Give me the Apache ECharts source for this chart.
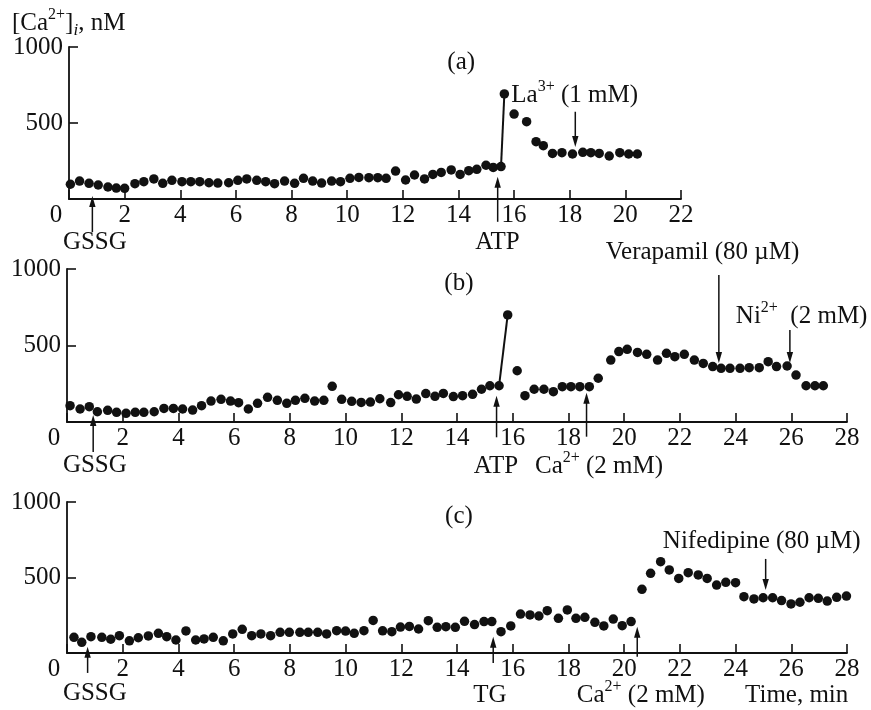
<!DOCTYPE html>
<html><head><meta charset="utf-8">
<script src="https://cdn.jsdelivr.net/npm/echarts@6/dist/echarts.min.js"></script>
<style>html,body{margin:0;padding:0;background:#fff}#c{width:871px;height:710px}</style>
</head><body><div id="c"></div>
<script>
// ---- data (time in min, [Ca2+]i in nM) ----
const aTime = [0.05,0.38,0.72,1.05,1.4,1.7,2.0,2.37,2.69,3.05,3.37,3.7,4.06,4.38,4.7,5.03,5.35,5.74,6.07,6.39,6.75,7.07,7.39,7.75,8.11,8.43,8.76,9.08,9.44,9.76,10.1,10.42,10.78,11.1,11.4,11.74,12.1,12.42,12.78,13.08,13.38,13.74,14.06,14.37,14.66,14.99,15.25,15.53,15.65,16.0,16.45,16.79,17.05,17.38,17.72,18.1,18.47,18.76,19.06,19.42,19.8,20.12,20.43];
const aVal  = [97,118,103,92,79,72,70,101,114,132,103,123,114,114,114,107,105,107,123,132,123,114,101,118,103,136,118,105,118,114,136,142,140,140,136,184,125,158,132,162,175,191,162,186,195,222,208,213,691,559,509,377,351,300,305,296,307,305,300,283,305,296,296];

const bTime = [0.11,0.47,0.8,1.09,1.46,1.78,2.12,2.45,2.76,3.13,3.48,3.82,4.15,4.51,4.83,5.17,5.53,5.87,6.16,6.51,6.84,7.2,7.55,7.89,8.2,8.54,8.89,9.22,9.52,9.86,10.22,10.56,10.89,11.23,11.62,11.9,12.21,12.54,12.88,13.21,13.51,13.87,14.2,14.56,14.88,15.18,15.51,15.82,16.16,16.44,16.77,17.12,17.46,17.78,18.09,18.41,18.75,19.07,19.52,19.81,20.11,20.48,20.81,21.2,21.52,21.82,22.16,22.52,22.84,23.18,23.48,23.8,24.16,24.49,24.85,25.17,25.47,25.85,26.17,26.53,26.85,27.15];
const bVal  = [107,85,100,67,76,63,57,63,63,67,89,89,85,78,107,137,148,137,126,85,122,161,142,122,142,155,137,142,233,148,135,128,130,152,127,178,168,150,186,168,187,166,172,181,214,237,237,700,335,172,214,214,198,231,231,231,231,286,405,460,475,455,442,405,449,427,442,405,383,362,351,351,351,355,355,394,362,366,307,237,237,237];

const cTime = [0.25,0.53,0.86,1.25,1.57,1.88,2.24,2.56,2.92,3.28,3.58,3.91,4.27,4.62,4.92,5.25,5.61,5.95,6.29,6.63,6.96,7.31,7.65,7.98,8.36,8.66,9.0,9.32,9.68,10.0,10.31,10.66,10.99,11.33,11.66,11.97,12.29,12.62,12.97,13.29,13.6,13.94,14.27,14.63,14.97,15.25,15.58,15.93,16.28,16.62,16.94,17.24,17.64,17.96,18.27,18.59,18.95,19.27,19.61,19.93,20.25,20.64,20.95,21.31,21.62,21.96,22.3,22.66,22.98,23.32,23.65,24.0,24.3,24.66,24.99,25.33,25.65,25.99,26.31,26.64,26.97,27.29,27.63,27.98];
const cVal  = [104,71,108,104,91,115,81,101,113,130,108,86,146,86,93,104,81,126,157,115,126,115,137,137,137,137,137,126,148,145,130,148,216,147,141,172,176,159,214,170,174,170,210,188,208,208,141,179,258,252,245,280,230,285,230,236,203,179,225,181,208,422,528,605,550,494,532,517,494,450,468,466,373,358,366,366,347,325,336,366,362,344,369,377];

const xMax = [22, 28, 28];
const yTicks = [0, 500, 1000];

// ---- annotations (time position, value-space extents) ----
const arrows = [
  {g:0, t:0.84,  from:-217, to:20},
  {g:0, t:15.41, from:-150, to:147},
  {g:0, t:18.2,  from:574,  to:342},
  {g:1, t:0.94,  from:-196, to:46},
  {g:1, t:15.42, from:-100, to:172},
  {g:1, t:18.65, from:-96,  to:191},
  {g:1, t:23.4,  from:961,  to:386},
  {g:1, t:25.95, from:601,  to:386},
  {g:2, t:0.74,  from:-132, to:42},
  {g:2, t:15.3,  from:-66,  to:108},
  {g:2, t:20.47, from:-25,  to:174},
  {g:2, t:25.08, from:623,  to:417}
];
const texts = [
  {g:0, t:14.1,  v:897,  text:'(a)', align:'center'},
  {g:0, t:15.9,  v:684,  text:'La{sup|3+} (1 mM)', align:'left'},
  {g:0, t:0.93,  v:-289, text:'GSSG', align:'center'},
  {g:0, t:15.4,  v:-289, text:'ATP', align:'center'},
  {g:1, t:14.07, v:908,  text:'(b)', align:'center'},
  {g:1, t:19.34, v:1105, text:'Verapamil (80 µM)', align:'left'},
  {g:1, t:24.01, v:693,  text:'Ni{sup|2+}  (2 mM)', align:'left'},
  {g:1, t:1.0,   v:-281, text:'GSSG', align:'center'},
  {g:1, t:15.4,  v:-288, text:'ATP', align:'center'},
  {g:1, t:16.8,  v:-288, text:'Ca{sup|2+} (2 mM)', align:'left'},
  {g:2, t:14.07, v:903,  text:'(c)', align:'center'},
  {g:2, t:21.39, v:737,  text:'Nifedipine (80 µM)', align:'left'},
  {g:2, t:1.0,   v:-265, text:'GSSG', align:'center'},
  {g:2, t:15.18, v:-278, text:'TG', align:'center'},
  {g:2, t:18.3,  v:-278, text:'Ca{sup|2+} (2 mM)', align:'left'},
  {g:2, t:24.34, v:-278, text:'Time, min', align:'left'}
];

const INK = '#111';
const FONT = '"Liberation Serif","DejaVu Serif",serif';
const FS = 25;

const panels = [[aTime,aVal],[bTime,bVal],[cTime,cVal]];
const grids = [
  {left:69, top:47,  width:612, height:152},
  {left:67, top:269, width:780, height:153},
  {left:67, top:502, width:780, height:151}
].map(g => Object.assign({outerBoundsMode:'none', containLabel:false}, g));

const xAxes = xMax.map((m,i) => ({
  type:'value', gridIndex:i, min:0, max:m, interval:2,
  axisLine:{show:true, onZero:false, lineStyle:{color:INK, width:1.8}},
  axisTick:{show:true, inside:true, length:9, lineStyle:{color:INK, width:1.6}},
  splitLine:{show:false},
  axisLabel:{show:true, color:INK, fontFamily:FONT, fontSize:FS, margin:4,
    formatter: v => v === 0 ? '{z|0}' : String(v),
    rich:{z:{fontFamily:FONT, fontSize:FS, color:INK, padding:[0,26,0,0]}}}
}));
const yAxes = xMax.map((m,i) => ({
  type:'value', gridIndex:i, min:yTicks[0], max:yTicks[2], interval:yTicks[1]-yTicks[0],
  axisLine:{show:true, onZero:false, lineStyle:{color:INK, width:1.8}},
  axisTick:{show:true, inside:true, length:9, lineStyle:{color:INK, width:1.6}},
  splitLine:{show:false},
  axisLabel:{show:true, color:INK, fontFamily:FONT, fontSize:FS, margin:6,
    formatter: v => v === 0 ? '' : String(v)}
}));

const series = [];
panels.forEach(([t,v],i) => {
  const n = Math.min(t.length, v.length);
  const data = [];
  for (let k=0;k<n;k++) data.push([t[k], v[k]]);
  series.push({type:'scatter', xAxisIndex:i, yAxisIndex:i, data,
    symbol:'circle', symbolSize:9.5, itemStyle:{color:INK, opacity:1}, silent:true});
});
// ATP surge lines in (a) and (b): join the point before the peak to the peak
[0,1].forEach(i => {
  const [t,v] = panels[i];
  let pk = 0; v.forEach((x,k) => { if (x > v[pk]) pk = k; });
  series.push({type:'line', xAxisIndex:i, yAxisIndex:i,
    data:[[t[pk-1], v[pk-1]], [t[pk], v[pk]]],
    symbol:'none', lineStyle:{color:INK, width:2}, silent:true, z:1});
});

const chart = echarts.init(document.getElementById('c'), null, {renderer:'canvas'});
chart.setOption({
  animation:false, backgroundColor:'#fff',
  grid:grids, xAxis:xAxes, yAxis:yAxes, series
});

function richify(s){
  return s.split(/(\{\w+\|[^}]*\})/).filter(p => p.length).map(p => p[0]==='{' ? p : '{n|'+p+'}').join('');
}
const RICH = {
  n:{fontFamily:FONT, fontSize:FS, fill:INK, color:INK, lineHeight:32, verticalAlign:'middle'},
  sup:{fontFamily:FONT, fontSize:16, fill:INK, color:INK, lineHeight:20, verticalAlign:'top'},
  sub:{fontFamily:FONT, fontSize:17, fontStyle:'italic', fill:INK, color:INK, lineHeight:18, verticalAlign:'bottom'}
};

const gfx = [];
arrows.forEach(a => {
  const p1 = chart.convertToPixel({gridIndex:a.g}, [a.t, a.from]);
  const p2 = chart.convertToPixel({gridIndex:a.g}, [a.t, a.to]);
  const dir = p2[1] < p1[1] ? -1 : 1; // -1 = pointing up
  const hl = 11, hw = 3.2;
  gfx.push({type:'line', shape:{x1:p1[0], y1:p1[1], x2:p2[0], y2:p2[1] - dir*hl*0.6},
    style:{stroke:INK, lineWidth:1.5}, silent:true});
  gfx.push({type:'polygon', shape:{points:[[p2[0], p2[1]], [p2[0]-hw, p2[1]-dir*hl], [p2[0]+hw, p2[1]-dir*hl]]},
    style:{fill:INK}, silent:true});
});
texts.forEach(tx => {
  const p = chart.convertToPixel({gridIndex:tx.g}, [tx.t, tx.v]);
  gfx.push({type:'text', x:p[0], y:p[1], silent:true,
    style:{text:richify(tx.text), align:tx.align, verticalAlign:'middle', rich:RICH,
      fontFamily:FONT, fontSize:FS, fill:INK}});
});
// y-axis title
gfx.push({type:'text', x:12, y:23, silent:true,
  style:{text:richify('[Ca{sup|2+}]{sub|i}, nM'), align:'left', verticalAlign:'middle', rich:RICH,
    fontFamily:FONT, fontSize:FS, fill:INK}});

chart.setOption({graphic:gfx});
</script></body></html>
